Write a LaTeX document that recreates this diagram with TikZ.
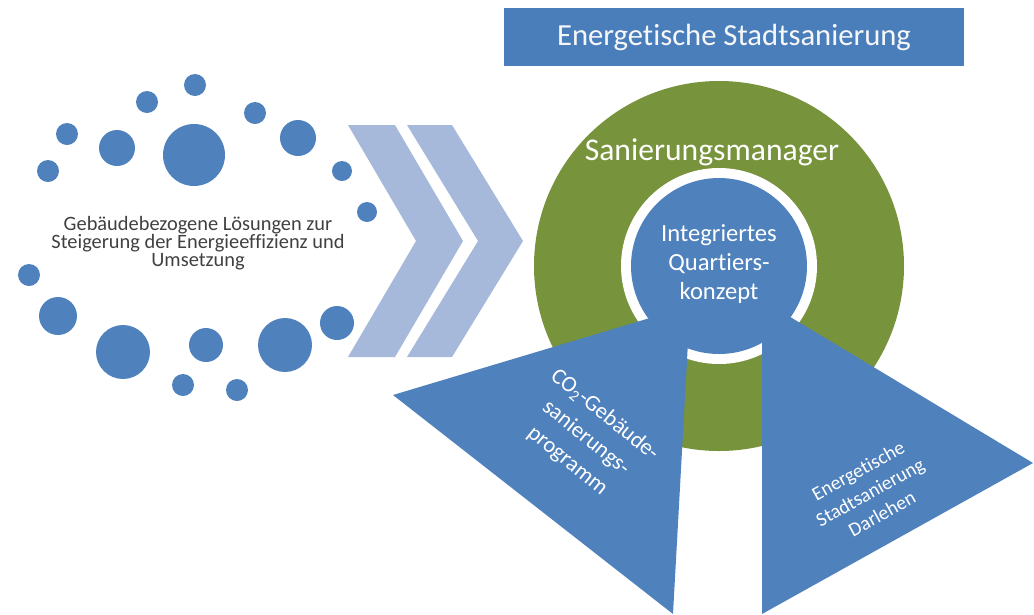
\documentclass[tikz,border=0pt]{standalone}
\usepackage{fontspec}
\setmainfont{Carlito}[Ligatures=NoCommon]
\usetikzlibrary{calc}
\definecolor{dotblue}{RGB}{79,129,189}
\definecolor{barblue}{RGB}{74,126,187}
\definecolor{ringgreen}{RGB}{119,147,60}
\definecolor{chevblue}{RGB}{167,185,218}
\definecolor{textgray}{RGB}{64,64,64}

\begin{document}
\begin{tikzpicture}[x=0.025cm,y=-0.025cm,
  dot/.style={fill=dotblue},
  chevron/.style={fill=chevblue},
  wedge/.style={fill=dotblue},
  whitetext/.style={text=white,align=center,inner sep=0pt}]
\useasboundingbox (0,0) rectangle (1034,614);

\node [fill=barblue, minimum width=11.5cm, minimum height=1.45cm, text=white!94!gray,
  font=\fontsize{21.8}{26}\selectfont] (stadt) at (734,37) {Energetische Stadtsanierung};

\fill[dot] (195,85) circle [radius=11];
\fill[dot] (147,102) circle [radius=11];
\fill[dot] (255,113) circle [radius=11];
\fill[dot] (67,134) circle [radius=11];
\fill[dot] (117,148) circle [radius=18];
\fill[dot] (194,155) circle [radius=31];
\fill[dot] (298,138) circle [radius=18];
\fill[dot] (48,171) circle [radius=11];
\fill[dot] (342,171) circle [radius=10];
\fill[dot] (367,212) circle [radius=10];
\fill[dot] (29,275) circle [radius=11];
\fill[dot] (58,316) circle [radius=19];
\fill[dot] (123,352) circle [radius=27];
\fill[dot] (206,345) circle [radius=17];
\fill[dot] (183,385) circle [radius=11];
\fill[dot] (237,390) circle [radius=11];
\fill[dot] (285,345) circle [radius=27];
\fill[dot] (337,323) circle [radius=17];

\node [text=textgray, align=center, font=\fontsize{14.5}{12.8}\selectfont] (loesung) at (198,243)
  {Gebäudebezogene Lösungen zur\\Steigerung der Energieeffizienz und\\Umsetzung};

\fill[chevron] (348,125) -- (395,125) -- (463,241) -- (395,357) -- (348,357) -- (416,241) -- cycle;
\fill[chevron] (407,125) -- (452,125) -- (523,241) -- (452,357) -- (407,357) -- (478,241) -- cycle;

\coordinate (M) at (719,266);
\fill[ringgreen] (M) circle [radius=185];
\fill[white] (M) circle [radius=98];
\fill[dotblue] (M) circle [radius=88];

\coordinate (Ltip) at (393,395);
\coordinate (Ltop) at (690,306);
\coordinate (Lbot) at (673,614);
\coordinate (Rtop) at (762,300);
\coordinate (Rtip) at (1033,463);
\coordinate (Rbot) at (762,614);
\fill[wedge] (Ltip) -- (Ltop) -- (Lbot) -- cycle;
\fill[wedge] (Rtop) -- (Rtip) -- (Rbot) -- cycle;

\node [whitetext, font=\fontsize{22.5}{26}\selectfont] (manager) at (712,152) {Sanierungsmanager};
\node [whitetext, font=\fontsize{17.5}{20.5}\selectfont] (quartier) at (719,264)
  {Integriertes\\Quartiers-\\konzept};
\node [whitetext, rotate=-39, font=\fontsize{16}{21}\selectfont] (co2) at (586,438)
  {CO\textsubscript{2}-Gebäude-\\sanierungs-\\programm};
\node [whitetext, rotate=29, font=\fontsize{14}{17.5}\selectfont] (darlehen) at (870,492)
  {Energetische\\Stadtsanierung\\Darlehen};
\end{tikzpicture}
\end{document}
